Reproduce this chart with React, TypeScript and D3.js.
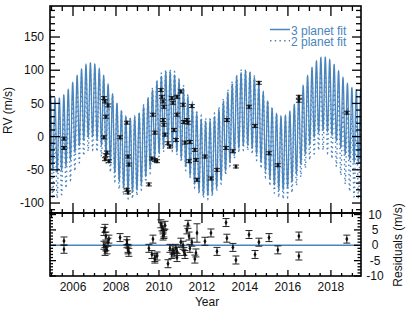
import * as d3 from "d3";

const obsYear = [
  2005.58, 2005.58,
  2007.44, 2007.49, 2007.53, 2007.44, 2007.58, 2007.49, 2007.67, 2007.63, 2007.53,
  2008.19, 2008.51, 2008.56, 2008.6, 2008.51, 2008.56,
  2009.53, 2009.67, 2009.81, 2009.72, 2009.81, 2009.91,
  2010.09, 2010.14, 2010.19, 2010.23, 2010.19, 2010.23, 2010.28, 2010.42, 2010.51, 2010.6, 2010.65, 2010.7, 2010.79, 2010.84, 2010.84,
  2011.02, 2011.12, 2011.16, 2011.21, 2011.3, 2011.35, 2011.4, 2011.53, 2011.44, 2011.67, 2011.77, 2011.72,
  2012.14, 2012.42, 2012.7,
  2013.12, 2013.16, 2013.44, 2013.58,
  2014.19, 2014.47, 2014.65, 2015.12, 2015.53, 2016.51, 2016.51, 2018.74,
];
const obsRV = [
  -3, -17,
  58, 53, 30, -1, -24, -34, -37, 47, -28,
  -1, 21, -30, -42, -80, -84,
  -72, -33, -35, 33, 6, -37,
  70, 60, 53, 45, 25, 18, 3, -10, -15, 58, 51, 10, -5, 60, 33,
  68, 48, 22, -9, 25, 21, -37, 46, -8, -20, -65, -35,
  -30, -63, -50,
  -17, 25, -22, -45,
  45, 16, 81, -25, -43, 60, 54, 36,
];
const obsRes = [
  1.4, -1.3,
  4.5, 5.5, 3, 0, -1.5, -2, 2, 1, -0.5,
  2.5, 0.5, -1.5, -2.3, 1.5, -1,
  -1, -3, -4.5, 2, -4, -3.5,
  7, 6, 5, 4, 3, 3.5, 6.5, -6, -1, -3, -1.5, -2.5, -1, -4, -2,
  1, 0, -2, -3, 5, 6.8, 3, 1, -1, -4.5, 4, -2.5,
  1.3, 4, -2,
  7.4, 2.3, -0.7, -4.8,
  3.5, -3, 1, 2.5, -1.5, 3, -3.5, 2,
];
const rvErr = 2.2;
const resErr = obsYear.map((y) => (y === 2011.77 ? 3 : 1.3));

// Keplerian fits: period (yr), semi-amplitude (m/s), periastron epoch (yr), eccentricity
const fit3Period = [0.2062, 3.55, 16];
const fit3K = [55, 37, 26];
const fit3Epoch = [2005.16, 2006.9, 2019.8];
const fit3Ecc = [0, 0, 0.4];
const fit3Offset = 19.6;

const fit2Period = [0.2062, 3.55];
const fit2K = [61, 37];
const fit2Epoch = [2005.16, 2006.9];
const fit2Ecc = [0, 0];
const fit2Offset = 4;

const legendLabels = ["3 planet fit", "2 planet fit"];
const yearTicks = [2006, 2008, 2010, 2012, 2014, 2016, 2018];
const rvTicks = [-100, -50, 0, 50, 100, 150];
const resTicks = [-10, -5, 0, 5, 10];

const blue = "#4a84bd";
const font = "'Liberation Sans', Arial, Helvetica, sans-serif";

function kepler(t: number, P: number, K: number, T: number, e: number) {
  const M = (2 * Math.PI * (t - T)) / P;
  let E = M;
  for (let i = 0; i < 30; i++) E = E - (E - e * Math.sin(E) - M) / (1 - e * Math.cos(E));
  const nu = 2 * Math.atan2(Math.sqrt(1 + e) * Math.sin(E / 2), Math.sqrt(1 - e) * Math.cos(E / 2));
  return K * (Math.cos(nu) + e);
}

function model(t: number, P: number[], K: number[], T: number[], e: number[], g: number) {
  let v = g;
  for (let i = 0; i < P.length; i++) v += kepler(t, P[i], K[i], T[i], e[i]);
  return v;
}

const left = 50, right = 361, top = 6, mid = 213, bottom = 276;

const x = d3.scaleLinear().domain([2004.93, 2019.4]).range([left, right]);
const y = d3.scaleLinear().domain([-115, 196.7]).range([mid, top]);
const yr = d3.scaleLinear().domain([-10, 10.5]).range([bottom, mid]);

export default function App() {
  const times = d3.range(2004.93, 2019.41, 0.003);
  const line3 = d3
    .line<number>()
    .x((t) => x(t))
    .y((t) => y(model(t, fit3Period, fit3K, fit3Epoch, fit3Ecc, fit3Offset)));
  const line2 = d3
    .line<number>()
    .x((t) => x(t))
    .y((t) => y(model(t, fit2Period, fit2K, fit2Epoch, fit2Ecc, fit2Offset)));

  const minorYears = d3.range(2005, 2019.5, 0.5);
  const rvMinor = d3.range(-110, 200, 10);
  const resMinor = d3.range(-10, 11, 1);

  const tk = { stroke: "#000", strokeWidth: 1.3 };
  const diamond = d3.symbol().type(d3.symbolDiamond).size(8)() as string;
  const ink = "#111";

  return (
    <svg
      width={415}
      height={312}
      style={{ position: "absolute", left: 0, top: 0, background: "#fff" }}
      fontFamily={font}
    >
      <defs>
        <clipPath id="topclip">
          <rect x={left} y={top} width={right - left} height={mid - top} />
        </clipPath>
      </defs>

      {/* fits */}
      <g clipPath="url(#topclip)">
        <path d={line2(times) as string} fill="none" stroke={blue} strokeWidth={1.4} strokeDasharray="1.5 3.2" />
        <path d={line3(times) as string} fill="none" stroke={blue} strokeWidth={1.3} />
      </g>

      {/* residual zero line */}
      <line x1={left} x2={right} y1={yr(0)} y2={yr(0)} stroke={blue} strokeWidth={1.5} />

      {/* data points */}
      {obsYear.map((t, i) => (
        <g key={"o" + i} stroke={ink} strokeWidth={0.9}>
          <line x1={x(t)} x2={x(t)} y1={y(obsRV[i] - rvErr)} y2={y(obsRV[i] + rvErr)} />
          <line x1={x(t) - 3} x2={x(t) + 3} y1={y(obsRV[i] - rvErr)} y2={y(obsRV[i] - rvErr)} />
          <line x1={x(t) - 3} x2={x(t) + 3} y1={y(obsRV[i] + rvErr)} y2={y(obsRV[i] + rvErr)} />
          <path d={diamond} transform={`translate(${x(t)},${y(obsRV[i])})`} fill={ink} stroke="none" />
        </g>
      ))}
      {obsYear.map((t, i) => (
        <g key={"r" + i} stroke={ink} strokeWidth={0.9}>
          <line x1={x(t)} x2={x(t)} y1={yr(obsRes[i] - resErr[i])} y2={yr(obsRes[i] + resErr[i])} />
          <line x1={x(t) - 3.5} x2={x(t) + 3.5} y1={yr(obsRes[i] - resErr[i])} y2={yr(obsRes[i] - resErr[i])} />
          <line x1={x(t) - 3.5} x2={x(t) + 3.5} y1={yr(obsRes[i] + resErr[i])} y2={yr(obsRes[i] + resErr[i])} />
          <path d={diamond} transform={`translate(${x(t)},${yr(obsRes[i])})`} fill={ink} stroke="none" />
        </g>
      ))}

      {/* x ticks */}
      {minorYears.map((t) => {
        const major = t % 2 === 0;
        const xx = x(t);
        return (
          <g key={"xt" + t}>
            <line x1={xx} x2={xx} y1={top} y2={top + (major ? 10 : 5)} {...tk} />
            <line x1={xx} x2={xx} y1={mid - (major ? 10 : 4)} y2={mid + (major ? 10 : 4)} {...tk} />
            <line x1={xx} x2={xx} y1={bottom} y2={bottom - (major ? 6 : 3)} {...tk} />
          </g>
        );
      })}

      {/* rv ticks */}
      {rvMinor.map((v) => {
        const major = v % 50 === 0;
        const yy = y(v);
        return (
          <g key={"yt" + v}>
            <line x1={left} x2={left + (major ? 10 : 5)} y1={yy} y2={yy} {...tk} />
            <line x1={right} x2={right - (major ? 9 : 5)} y1={yy} y2={yy} {...tk} />
          </g>
        );
      })}

      {/* residual ticks */}
      {resMinor.map((v) => {
        const major = v % 5 === 0;
        const yy = yr(v);
        return (
          <g key={"rt" + v}>
            <line x1={left} x2={left + (major ? 6 : 3)} y1={yy} y2={yy} {...tk} />
            <line x1={right} x2={right - (major ? 7 : 3.5)} y1={yy} y2={yy} {...tk} />
          </g>
        );
      })}

      {/* frames */}
      <rect x={left} y={top} width={right - left} height={mid - top} fill="none" stroke="#000" strokeWidth={1.6} />
      <rect x={left} y={mid} width={right - left} height={bottom - mid} fill="none" stroke="#000" strokeWidth={1.6} />

      {/* tick labels */}
      {yearTicks.map((t) => (
        <text key={"xl" + t} x={x(t)} y={291} textAnchor="middle" fontSize={12} fill={ink}>
          {t}
        </text>
      ))}
      {rvTicks.map((v) => (
        <text key={"yl" + v} x={44} y={y(v)} dy="0.35em" textAnchor="end" fontSize={12} fill={ink}>
          {v}
        </text>
      ))}
      {resTicks.map((v) => (
        <text key={"rl" + v} x={375} y={yr(v)} dy="0.35em" textAnchor="middle" fontSize={12} fill={ink}>
          {v}
        </text>
      ))}

      {/* axis titles */}
      <text transform="translate(12,110.5) rotate(-90)" textAnchor="middle" fontSize={12} fill={ink}>
        RV (m/s)
      </text>
      <text x={207} y={306} textAnchor="middle" fontSize={12} fill={ink}>
        Year
      </text>
      <text transform="translate(402,245) rotate(-90)" textAnchor="middle" fontSize={12} fill={ink}>
        Residuals (m/s)
      </text>

      {/* legend */}
      <line x1={270} x2={290} y1={29.5} y2={29.5} stroke={blue} strokeWidth={1.5} />
      <line x1={270} x2={290} y1={40.7} y2={40.7} stroke={blue} strokeWidth={1.5} strokeDasharray="1.5 3.2" />
      {legendLabels.map((s, i) => (
        <text key={s} x={291} y={34.5 + i * 11} fontSize={12} fill={blue}>
          {s}
        </text>
      ))}
    </svg>
  );
}
